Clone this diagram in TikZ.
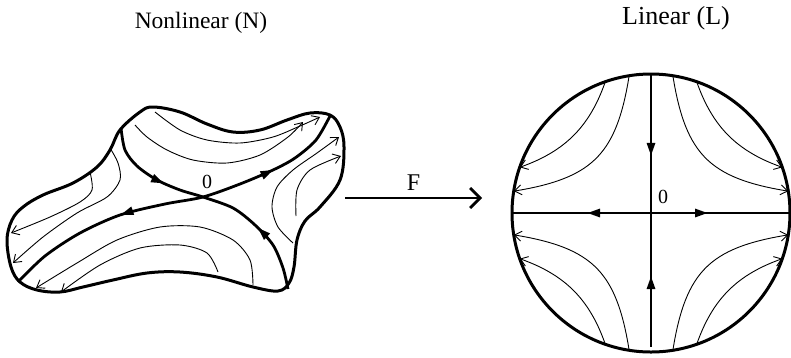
\documentclass[tikz,border=0pt]{standalone}
\usepackage{fontspec}
\setmainfont{Liberation Serif}
\usetikzlibrary{arrows.meta,decorations.markings,positioning}

\begin{document}
\begin{tikzpicture}[x=1pt,y=-1pt,
  rim/.style={line width=3pt,line join=round},
  sep/.style={line width=2.8pt},
  flow/.style={line width=0.9pt,-{Straight Barb[length=7pt,width=10pt]}},
  title/.style={font=\fontsize{#1}{28}\selectfont,inner sep=0pt},
  zero/.style={font=\fontsize{20}{22}\selectfont,inner sep=0pt},
  fwd/.style={postaction={decorate,decoration={markings,
    mark=at position #1 with {\arrow{Triangle[length=13pt,width=8pt]}}}}},
  bwd/.style={postaction={decorate,decoration={markings,
    mark=at position #1 with {\arrowreversed{Triangle[length=13pt,width=8pt]}}}}},
  maparrow/.style={line width=2.8pt,-{Straight Barb[length=10pt,width=20pt]}}
]
  \useasboundingbox (0,0) rectangle (791,357);

  % titles
  \node[title=23.5] (ntitle) at (201,23) {Nonlinear (N)};
  \node[title=26] (ltitle) at (676,18) {Linear (L)};

  % nonlinear region
  \draw[rim] plot[smooth cycle,tension=0.6] coordinates {
    (120,130) (140,112) (153,107) (180,112) (207,124) (233,132) (260,130)
    (287,120) (310,113) (330,115) (340,127) (344,147) (340,180) (320,207)
    (305,221) (297,240) (294,267) (289,283) (278,291) (253,287) (217,277)
    (180,272) (147,273) (113,280) (83,287) (60,292) (37,290) (20,282)
    (11,267) (7,240) (12,220) (23,207) (43,195) (73,183) (97,167) (110,150)};

  % separatrices
  \draw[sep,fwd=0.3,bwd=0.72] plot[smooth] coordinates {
    (121,128) (125,150) (137,166) (157,180) (180,190) (203,197)
    (233,208) (255,225) (273,245) (283,268) (288,289)};
  \draw[sep,bwd=0.22,fwd=0.66] plot[smooth] coordinates {
    (330,116) (316,140) (295,158) (273,170) (240,184) (203,197)
    (165,204) (120,215) (80,233) (45,256) (18,282)};
  \node[zero] (nzero) at (207,182) {0};

  % flow lines, upper
  \draw[flow] plot[smooth] coordinates {
    (135,125) (147,137) (167,150) (193,160) (227,163) (260,155) (288,137) (303,122)};
  \draw[flow] plot[smooth] coordinates {
    (155,112) (180,130) (207,140) (240,143) (273,137) (300,126) (320,117)};
  % flow lines, right
  \draw[flow] plot[smooth] coordinates {
    (296,216) (297,190) (310,170) (341,156)};
  \draw[flow] plot[smooth] coordinates {
    (293,243) (278,227) (272,207) (277,187) (293,170) (317,153) (339,137)};
  % flow lines, left
  \draw[flow] plot[smooth] coordinates {
    (90,172) (92,190) (80,202) (50,217) (11,233)};
  \draw[flow] plot[smooth] coordinates {
    (110,148) (118,163) (120,180) (107,197) (77,213) (43,237) (13,263)};
  % flow lines, lower
  \draw[flow] plot[smooth] coordinates {
    (253,285) (250,260) (233,240) (200,227) (160,227) (117,240) (77,263) (36,288)};
  \draw[flow] plot[smooth] coordinates {
    (218,272) (207,253) (180,245) (140,248) (100,265) (61,292)};

  % map F
  \coordinate (fstart) at (345,198);
  \coordinate (fend) at (482,198);
  \draw[maparrow] (fstart) -- node[above=6pt,title=24] (flabel) {F} (fend);

  % linear region
  \coordinate (cc) at (651,213);
  \draw[rim] (cc) circle[radius=139];
  \coordinate (ctop) at (651,74);
  \coordinate (cbot) at (651,347);
  \coordinate (cleft) at (512,213);
  \coordinate (cright) at (790,213);
  \draw[sep,fwd=0.3,bwd=0.74] (ctop) -- (cbot);
  \draw[sep,bwd=0.27,fwd=0.705] (cleft) -- (cright);
  \node[zero] (lzero) at (663,197) {0};

  \begin{scope}[shift={(cc)}]
    \foreach \s/\t in {54.77/0.919, 77.46/0.528} {
      \draw[flow] plot[smooth,samples=30,domain=-\t:\t] ({-\s*exp(\x)},{-\s*exp(-\x)});
      \draw[flow] plot[smooth,samples=30,domain=-\t:\t] ({\s*exp(\x)},{-\s*exp(-\x)});
      \draw[flow] plot[smooth,samples=30,domain=-\t:\t] ({-\s*exp(\x)},{\s*exp(-\x)});
      \draw[flow] plot[smooth,samples=30,domain=-\t:\t] ({\s*exp(\x)},{\s*exp(-\x)});
    }
  \end{scope}
\end{tikzpicture}
\end{document}
